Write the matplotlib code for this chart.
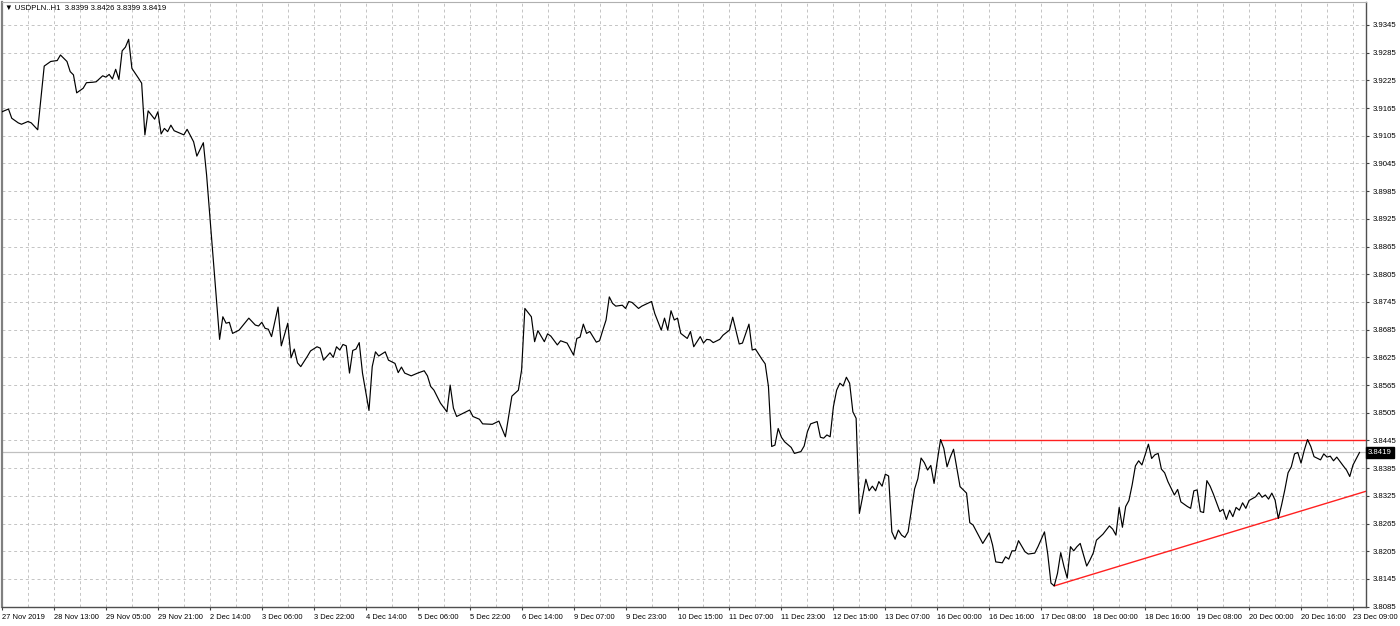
#!/usr/bin/env python3
# coding=utf-8
import matplotlib
matplotlib.use('Agg')
import matplotlib.pyplot as plt

symbol = 'USDPLN..H1'
last_ohlc = ['3.8399', '3.8426', '3.8399', '3.8419']
bid = 3.8419

# H1 bar index (0 = first bar on screen) and close price at the turning points
bars = [
    0, 2, 3, 5, 6, 8, 9, 11, 13, 15,
    17, 18, 20, 21, 22, 23, 25, 26, 28, 29,
    31, 32, 33, 34, 35, 36, 37, 38, 39, 40,
    42, 43, 44, 45, 46, 47, 48, 49, 50, 51,
    52, 53, 56, 57, 59, 60, 62, 63, 67, 68,
    69, 70, 71, 73, 76, 78, 79, 80, 81, 82,
    83, 85, 86, 88, 89, 90, 91, 92, 94, 95,
    97, 98, 99, 100, 101, 102, 103, 104, 105, 106,
    107, 108, 109, 110, 111, 113, 114, 115, 116, 118,
    119, 121, 122, 123, 124, 126, 128, 130, 131, 132,
    133, 135, 137, 138, 139, 140, 142, 144, 145, 147,
    148, 151, 153, 155, 157, 159, 160, 161, 163, 164,
    165, 167, 168, 169, 171, 172, 174, 176, 177, 178,
    179, 180, 181, 183, 184, 185, 186, 187, 188, 189,
    191, 192, 193, 194, 196, 197, 200, 201, 203, 204,
    205, 206, 207, 208, 209, 211, 212, 213, 215, 216,
    217, 218, 219, 221, 222, 224, 225, 227, 228, 230,
    231, 232, 234, 235, 236, 237, 238, 239, 240, 241,
    243, 244, 246, 247, 248, 249, 251, 252, 253, 254,
    255, 256, 257, 258, 259, 260, 261, 262, 263, 264,
    265, 266, 267, 268, 269, 270, 271, 272, 273, 274,
    275, 276, 277, 278, 279, 281, 282, 283, 284, 285,
    286, 287, 288, 289, 290, 291, 292, 293, 294, 295,
    297, 298, 299, 302, 304, 305, 306, 308, 309, 310,
    311, 312, 313, 315, 316, 318, 319, 321, 322, 323,
    324, 325, 326, 327, 328, 329, 330, 331, 332, 334,
    335, 336, 337, 339, 341, 342, 343, 344, 345, 346,
    347, 348, 349, 350, 351, 352, 353, 354, 355, 356,
    357, 358, 359, 361, 362, 363, 365, 366, 367, 368,
    369, 370, 371, 372, 373, 375, 376, 377, 378, 379,
    380, 381, 382, 383, 384, 386, 387, 388, 389, 390,
    391, 392, 393, 394, 395, 396, 397, 398, 399, 400,
    401, 402, 403, 404, 406, 407, 408, 409, 410, 411,
    413, 414, 415, 416, 418,
]
closes = [
    3.9157, 3.9163, 3.9143, 3.9133, 3.9130, 3.9136, 3.9133, 3.9118, 3.9256, 3.9266,
    3.9268, 3.9280, 3.9266, 3.9244, 3.9237, 3.9198, 3.9208, 3.9220, 3.9221, 3.9222,
    3.9235, 3.9232, 3.9238, 3.9228, 3.9249, 3.9227, 3.9289, 3.9297, 3.9314, 3.9251,
    3.9230, 3.9219, 3.9107, 3.9159, 3.9150, 3.9141, 3.9157, 3.9109, 3.9121, 3.9114,
    3.9128, 3.9116, 3.9107, 3.9119, 3.9092, 3.9061, 3.9090, 3.9020, 3.8664, 3.8713,
    3.8699, 3.8701, 3.8677, 3.8684, 3.8710, 3.8695, 3.8693, 3.8701, 3.8688, 3.8686,
    3.8670, 3.8734, 3.8650, 3.8699, 3.8624, 3.8643, 3.8613, 3.8605, 3.8627, 3.8639,
    3.8648, 3.8645, 3.8619, 3.8627, 3.8635, 3.8625, 3.8648, 3.8641, 3.8653, 3.8650,
    3.8591, 3.8640, 3.8643, 3.8657, 3.8591, 3.8510, 3.8605, 3.8637, 3.8628, 3.8637,
    3.8619, 3.8612, 3.8592, 3.8604, 3.8591, 3.8585, 3.8591, 3.8596, 3.8585, 3.8562,
    3.8554, 3.8526, 3.8507, 3.8565, 3.8515, 3.8497, 3.8504, 3.8511, 3.8497, 3.8491,
    3.8481, 3.8480, 3.8487, 3.8453, 3.8541, 3.8554, 3.8598, 3.8731, 3.8713, 3.8659,
    3.8683, 3.8659, 3.8676, 3.8671, 3.8652, 3.8661, 3.8656, 3.8630, 3.8666, 3.8669,
    3.8697, 3.8677, 3.8681, 3.8658, 3.8661, 3.8684, 3.8706, 3.8756, 3.8742, 3.8736,
    3.8738, 3.8731, 3.8746, 3.8744, 3.8731, 3.8736, 3.8746, 3.8720, 3.8684, 3.8710,
    3.8684, 3.8726, 3.8706, 3.8710, 3.8677, 3.8666, 3.8681, 3.8648, 3.8670, 3.8656,
    3.8664, 3.8663, 3.8657, 3.8664, 3.8673, 3.8684, 3.8712, 3.8654, 3.8656, 3.8697,
    3.8641, 3.8643, 3.8621, 3.8611, 3.8562, 3.8432, 3.8435, 3.8471, 3.8452, 3.8442,
    3.8430, 3.8417, 3.8421, 3.8433, 3.8464, 3.8481, 3.8486, 3.8452, 3.8450, 3.8457,
    3.8453, 3.8518, 3.8554, 3.8569, 3.8563, 3.8582, 3.8569, 3.8507, 3.8493, 3.8287,
    3.8323, 3.8361, 3.8336, 3.8346, 3.8336, 3.8356, 3.8346, 3.8372, 3.8368, 3.8247,
    3.8231, 3.8251, 3.8240, 3.8235, 3.8247, 3.8340, 3.8362, 3.8407, 3.8397, 3.8381,
    3.8391, 3.8352, 3.8401, 3.8447, 3.8428, 3.8388, 3.8409, 3.8426, 3.8385, 3.8345,
    3.8331, 3.8267, 3.8262, 3.8222, 3.8245, 3.8219, 3.8182, 3.8180, 3.8193, 3.8188,
    3.8206, 3.8206, 3.8228, 3.8204, 3.8199, 3.8201, 3.8215, 3.8247, 3.8199, 3.8136,
    3.8130, 3.8157, 3.8202, 3.8172, 3.8147, 3.8215, 3.8206, 3.8215, 3.8222, 3.8173,
    3.8186, 3.8201, 3.8229, 3.8242, 3.8260, 3.8253, 3.8240, 3.8300, 3.8257, 3.8302,
    3.8315, 3.8349, 3.8390, 3.8401, 3.8392, 3.8414, 3.8437, 3.8406, 3.8414, 3.8417,
    3.8383, 3.8375, 3.8356, 3.8327, 3.8339, 3.8312, 3.8302, 3.8298, 3.8336, 3.8338,
    3.8291, 3.8289, 3.8358, 3.8346, 3.8329, 3.8291, 3.8296, 3.8274, 3.8294, 3.8280,
    3.8300, 3.8294, 3.8310, 3.8298, 3.8315, 3.8323, 3.8332, 3.8322, 3.8327, 3.8318,
    3.8331, 3.8316, 3.8276, 3.8305, 3.8338, 3.8375, 3.8388, 3.8416, 3.8419, 3.8396,
    3.8424, 3.8447, 3.8432, 3.8410, 3.8403, 3.8416, 3.8409, 3.8411, 3.8401, 3.8409,
    3.8390, 3.8381, 3.8367, 3.8392, 3.8419,
]

time_labels = [
    '27 Nov 2019', '28 Nov 13:00', '29 Nov 05:00', '29 Nov 21:00', '2 Dec 14:00',
    '3 Dec 06:00', '3 Dec 22:00', '4 Dec 14:00', '5 Dec 06:00', '5 Dec 22:00',
    '6 Dec 14:00', '9 Dec 07:00', '9 Dec 23:00', '10 Dec 15:00', '11 Dec 07:00',
    '11 Dec 23:00', '12 Dec 15:00', '13 Dec 07:00', '16 Dec 00:00', '16 Dec 16:00',
    '17 Dec 08:00', '18 Dec 00:00', '18 Dec 16:00', '19 Dec 08:00', '20 Dec 00:00',
    '20 Dec 16:00', '23 Dec 09:00',
]
label_step = 16  # bars between time labels

price_labels = [
    '3.8085', '3.8145', '3.8205', '3.8265', '3.8325', '3.8385', '3.8445',
    '3.8505', '3.8565', '3.8625', '3.8685', '3.8745', '3.8805', '3.8865',
    '3.8925', '3.8985', '3.9045', '3.9105', '3.9165', '3.9225', '3.9285', '3.9345',
]

# trend lines drawn by hand on the chart
resistance_bars = [289, 420]
resistance_prices = [3.8447, 3.8447]
support_bars = [324, 420]
support_prices = [3.8130, 3.8335]

FONT = ['Liberation Sans', 'DejaVu Sans']
GRID = '#c4c4c4'


def plot_chart(filename):
    plt.rcParams['font.family'] = FONT
    fig = plt.figure(figsize=(14, 6.26), dpi=100)
    ax = fig.add_axes([2 / 1400, 19 / 626, 1364 / 1400, 605 / 626])

    ax.set_xlim(0, 420)
    ax.set_ylim(3.80843, 3.93948)

    # grid: every half label step vertically, every price label horizontally
    for b in range(label_step // 2, 420, label_step // 2):
        ax.axvline(b, color=GRID, lw=0.7, ls=(0, (3, 3)), zorder=0)
    prices = [float(p) for p in price_labels]
    for p in prices[1:]:
        ax.axhline(p, color=GRID, lw=0.7, ls=(0, (3, 3)), zorder=0)

    ax.axhline(bid, color='#c0c0c0', lw=0.9, zorder=1)

    ax.plot(bars, closes, color='black', lw=0.85, zorder=3)
    ax.plot(resistance_bars, resistance_prices, color='#ff2020', lw=1.0, zorder=2)
    ax.plot(support_bars, support_prices, color='#ff2020', lw=1.0, zorder=2)

    ax.yaxis.tick_right()
    ax.set_yticks(prices)
    ax.set_yticklabels(price_labels)
    ax.tick_params(axis='y', labelsize=5.6, pad=2, length=2.5, color='#404040',
                   width=0.8)

    ax.set_xticks([i * label_step for i in range(len(time_labels))])
    ax.set_xticklabels(time_labels)
    for lbl in ax.get_xticklabels():
        lbl.set_horizontalalignment('left')
    ax.tick_params(axis='x', labelsize=5.4, pad=2.5, length=2.5, color='#404040',
                   width=0.8)

    for side in ['right', 'bottom']:
        ax.spines[side].set_color('#505050')
        ax.spines[side].set_linewidth(1.0)
    ax.spines['left'].set_color('#808080')
    ax.spines['left'].set_linewidth(1.6)
    ax.spines['top'].set_color('#b0b0b0')
    ax.spines['top'].set_linewidth(0.8)

    # current price tag on the price scale
    ax.text(1.0015, bid, '%.4f' % bid, transform=ax.get_yaxis_transform(),
            ha='left', va='center', fontsize=5.6, color='white',
            bbox=dict(facecolor='black', edgecolor='black', pad=1.6))

    fig.text(5 / 1400, 1 - 8 / 626,
             '\u25bc ' + symbol + '  ' + ' '.join(last_ohlc),
             ha='left', va='center', fontsize=5.6, family=FONT)

    fig.savefig(filename, dpi=100)


if __name__ == "__main__":
    assert len(bars) == len(closes)
    plot_chart('out.png')
